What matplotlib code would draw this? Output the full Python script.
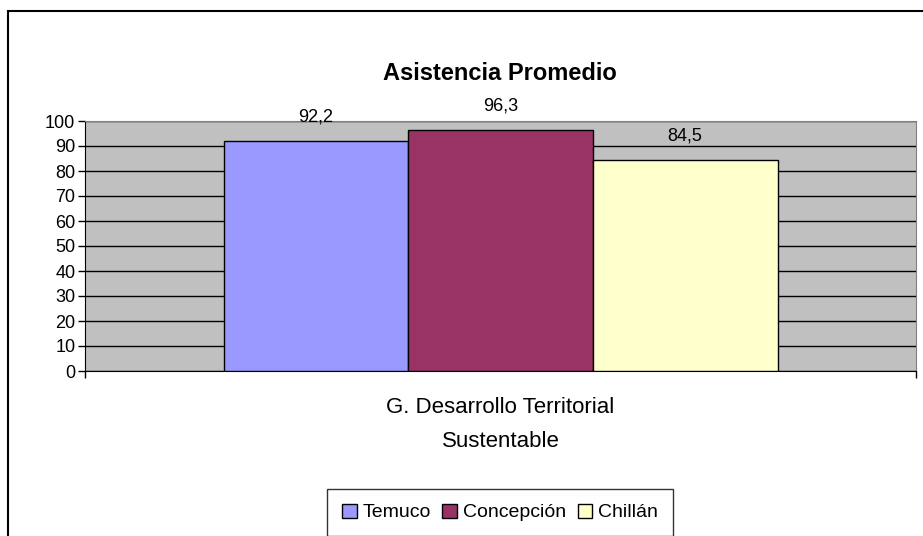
import matplotlib
matplotlib.use("Agg")
import matplotlib.pyplot as plt
from matplotlib.patches import Rectangle

plt.rcParams["font.family"] = ["Liberation Sans", "DejaVu Sans"]

title = "Asistencia Promedio"
category = "G. Desarrollo Territorial\nSustentable"
series = ["Temuco", "Concepción", "Chillán"]
values = [92.2, 96.3, 84.5]
colors = ["#9999FF", "#993366", "#FFFFCC"]
yticks = [0, 10, 20, 30, 40, 50, 60, 70, 80, 90, 100]


def fmt(v):
    return f"{v:.1f}".replace(".", ",")


def main():
    fig = plt.figure(figsize=(9.23, 5.36), dpi=100)
    ax = fig.add_axes([85 / 923, 1 - 371 / 536, 831 / 923, 250 / 536])
    ax.set_facecolor("#C0C0C0")

    w = 1 / 4.5
    offsets = [(i - (len(series) - 1) / 2) * w for i in range(len(series))]
    for name, v, c, off in zip(series, values, colors, offsets):
        bars = ax.bar(off, v, width=w, color=c, edgecolor="black",
                      linewidth=1, label=name, zorder=3)
        ax.bar_label(bars, labels=[fmt(v)], padding=11, fontsize=13)

    ax.set_xlim(-0.5, 0.5)
    ax.set_ylim(0, 100)
    ax.set_yticks(yticks)
    ax.yaxis.grid(True, color="black", linewidth=1)
    ax.set_axisbelow(True)
    ax.tick_params(axis="y", labelsize=13, length=5, width=1, direction="out", pad=2)

    ax.set_xticks([-0.5, 0.5])
    ax.set_xticklabels(["", ""])
    ax.tick_params(axis="x", which="major", length=5, width=1, direction="out")
    ax.set_xticks([0], minor=True)
    ax.set_xticklabels([category], minor=True, fontsize=16, linespacing=1.8)
    ax.tick_params(axis="x", which="minor", length=0, pad=19)

    for s in ["top", "right"]:
        ax.spines[s].set_color("#808080")
    ax.spines["left"].set_color("black")
    ax.spines["bottom"].set_color("black")

    fig.text(500 / 923, 1 - 74 / 536, title, ha="center", va="center",
             fontsize=17, fontweight="bold")

    leg = fig.legend(loc="upper center", bbox_to_anchor=(500 / 923, 1 - 489 / 536),
                     ncol=3, frameon=True, fontsize=14, handlelength=0.75,
                     handleheight=0.75, handletextpad=0.3, columnspacing=0.6,
                     borderaxespad=0, borderpad=0.75, fancybox=False)
    leg.get_frame().set_edgecolor("black")
    leg.get_frame().set_linewidth(1)

    fig.patches.append(Rectangle((8 / 923, -0.1), 1.1, 1.1 - 11 / 536, fill=False,
                                 edgecolor="black", linewidth=1.5,
                                 transform=fig.transFigure))

    fig.savefig("out.png", dpi=100)


if __name__ == "__main__":
    main()
